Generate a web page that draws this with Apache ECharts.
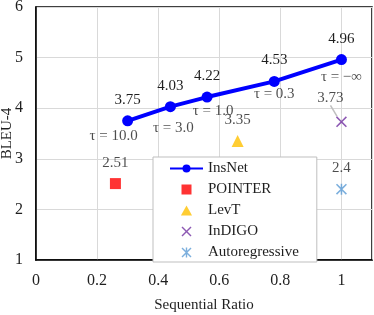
<!DOCTYPE html>
<html><head><meta charset="utf-8">
<script src="https://cdn.jsdelivr.net/npm/echarts@6/dist/echarts.min.js"></script>
<style>html,body{margin:0;padding:0;background:#fff}#c{width:374px;height:315px}</style>
</head><body><div id="c"></div>
<script>
// ---- data ----
const insnetX = [0.30, 0.44, 0.56, 0.78, 1.0];
const insnetY = [3.75, 4.03, 4.22, 4.53, 4.96];
const tauLabels = ['τ = 10.0', 'τ = 3.0', 'τ = 1.0', 'τ = 0.3', 'τ = −∞'];
const pointerPt = [0.26, 2.51];
const levtPt = [0.66, 3.35];
const indigoPt = [1.0, 3.73];
const autoregPt = [1.0, 2.4];
const seriesNames = ['InsNet', 'POINTER', 'LevT', 'InDIGO', 'Autoregressive'];
const xTicks = [0, 0.2, 0.4, 0.6, 0.8, 1];
const yTicks = [1, 2, 3, 4, 5, 6];

// ---- styles ----
const FONT = 'Liberation Serif';
const TXT = '#1f1f1f';
const tauOffsets = [[-14, 0], [3, 6], [6, -2], [0, -3], [0, 2]];
const squarePath = 'path://M0,0L10,0L10,10L0,10Z';
const triPath = 'path://M5,0L10,9L0,9Z';
const crossPath = 'path://M0,10L10,0L50,40L90,0L100,10L60,50L100,90L90,100L50,60L10,100L0,90L40,50Z';
const starPath = 'path://M0,10L10,0L50,40L90,0L100,10L60,50L100,90L90,100L50,60L10,100L0,90L40,50Z M43,0L57,0L57,100L43,100Z';
const valLabel = { show: true, position: 'top', distance: 8, fontFamily: FONT, fontSize: 15, color: TXT };

const chart = echarts.init(document.getElementById('c'), null, { renderer: 'canvas' });
chart.setOption({
  animation: false,
  textStyle: { fontFamily: FONT },
  grid: { left: 36, right: 2, top: 7, bottom: 55, containLabel: false, outerBoundsMode: 'none',
    show: true, borderColor: '#000', borderWidth: 1.5 },
  xAxis: {
    type: 'value', min: 0, max: 1.1, interval: 0.2,
    axisLine: { show: true, lineStyle: { color: '#000', width: 1.5 } },
    axisTick: { show: false },
    axisLabel: { fontFamily: FONT, fontSize: 16, color: TXT, margin: 13, showMaxLabel: false,
      formatter: v => xTicks.some(t => Math.abs(t - v) < 1e-6) ? String(+v.toFixed(1)) : '' },
    splitLine: { show: true, lineStyle: { color: '#d9d9d9', width: 1 } },
    name: 'Sequential Ratio', nameLocation: 'middle', nameGap: 38, nameMoveOverlap: false,
    nameTextStyle: { fontFamily: FONT, fontSize: 15, color: TXT }
  },
  yAxis: {
    type: 'value', min: yTicks[0], max: yTicks[yTicks.length - 1], interval: 1,
    axisLine: { show: true, lineStyle: { color: '#000', width: 1.5 } },
    axisTick: { show: false },
    axisLabel: { fontFamily: FONT, fontSize: 16, color: TXT, margin: 13 },
    splitLine: { show: true, lineStyle: { color: '#d9d9d9', width: 1 } },
    name: 'BLEU-4', nameLocation: 'middle', nameGap: 21, nameMoveOverlap: false,
    nameTextStyle: { fontFamily: FONT, fontSize: 15, color: TXT }
  },
  legend: {
    data: seriesNames,
    orient: 'vertical', left: 153, top: 157,
    padding: [4, 18, 2, 16],
    itemWidth: 33, itemHeight: 10, itemGap: 6,
    backgroundColor: '#fff', borderColor: '#bfbfbf', borderWidth: 1,
    textStyle: { fontFamily: FONT, fontSize: 15, color: TXT, lineHeight: 14 }
  },
  series: [
    {
      name: 'InsNet', type: 'line', z: 5,
      data: insnetX.map((x, i) => [x, insnetY[i]]),
      symbol: 'circle', symbolSize: 11,
      lineStyle: { color: '#0000ff', width: 4 },
      itemStyle: { color: '#0000ff' },
      label: valLabel
    },
    {
      name: 'tau', type: 'scatter', z: 4, silent: true,
      data: insnetX.map((x, i) => ({
        value: [x, insnetY[i]],
        label: { offset: tauOffsets[i] }
      })),
      symbolSize: 0,
      label: { show: true, position: 'bottom', distance: 8, fontFamily: FONT, fontSize: 15, color: TXT,
        formatter: p => tauLabels[p.dataIndex] }
    },
    {
      name: 'POINTER', type: 'scatter', data: [pointerPt],
      symbol: squarePath, symbolSize: 11, itemStyle: { color: '#ff0000' }, label: valLabel
    },
    {
      name: 'LevT', type: 'scatter', data: [levtPt],
      symbol: triPath, symbolSize: 12, itemStyle: { color: '#ffc000' }, label: valLabel
    },
    {
      name: 'InDIGO', type: 'scatter', data: [indigoPt],
      symbol: crossPath, symbolSize: 11, itemStyle: { color: '#7030a0' },
      label: Object.assign({}, valLabel, { distance: 11 }),
      labelLayout: { dx: -11 },
      labelLine: { show: true, length2: 0, lineStyle: { color: '#bfbfbf', width: 1.5 } }
    },
    {
      name: 'Autoregressive', type: 'scatter', data: [autoregPt],
      symbol: starPath, symbolSize: 11, itemStyle: { color: '#5b9bd5' }, label: valLabel
    }
  ]
});
</script></body></html>
